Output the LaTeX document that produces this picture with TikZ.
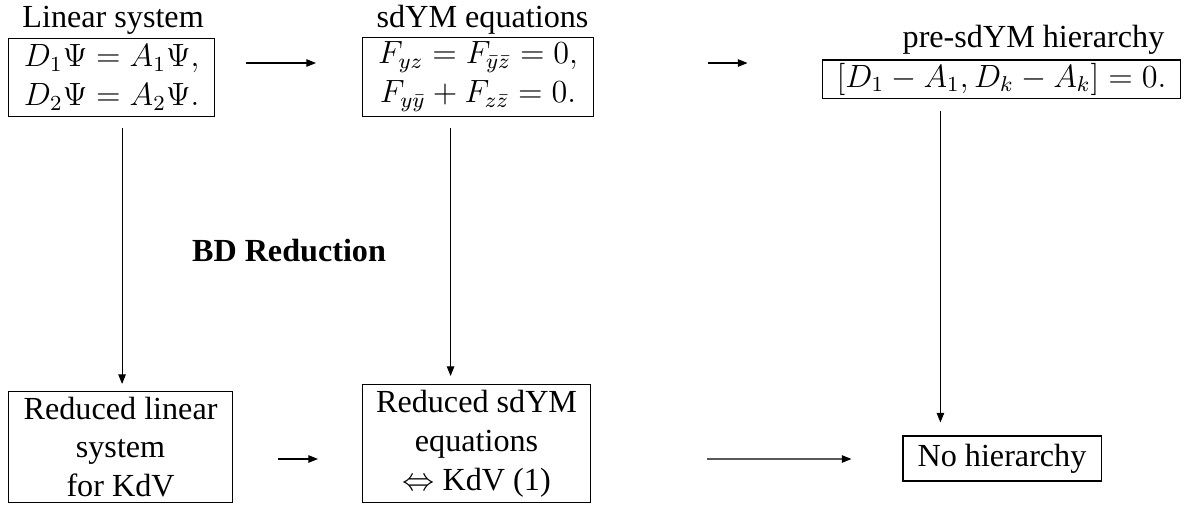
\documentclass[tikz,border=0pt,12pt]{standalone}
\usepackage[no-math]{fontspec}
\setmainfont{Liberation Serif}
\usetikzlibrary{arrows.meta,positioning,calc}

\begin{document}
\begin{tikzpicture}[x=0.3731pt,y=-0.3731pt,
  box/.style={draw,rectangle,align=center,inner sep=0pt,line width=0.4pt},
  title/.style={inner sep=0pt,anchor=base},
  arrow/.style={-{Triangle[length=3.6pt,width=2.8pt]},line width=0.4pt},
]
  \useasboundingbox (0,0) rectangle (1188,505);

  % top row
  \node[box,anchor=south west,minimum width=76.9pt,minimum height=29.1pt] (lin) at (8,117)
    {$D_1\Psi = A_1\Psi,$\\ $D_2\Psi = A_2\Psi.$};
  \node[box,anchor=south west,minimum width=86.2pt,minimum height=29.5pt] (sdym) at (362,117)
    {$F_{yz} = F_{\bar y\bar z} = 0,$\\ $F_{y\bar y} + F_{z\bar z} = 0.$};
  \node[box,minimum width=133.9pt,minimum height=14.2pt] (hier) at (1001.5,79)
    {$[D_1 - A_1, D_k - A_k] = 0.$};

  \node[title] (lintitle) at ($(lin.north)+(1.5,-10)$) {Linear system};
  \node[title] (sdymtitle) at ($(sdym.north)+(4.5,-9)$) {sdYM equations};
  \node[title] (hiertitle) at ($(hier.north)+(32,-12)$) {pre-sdYM hierarchy};

  % bottom row
  \node[box,anchor=south west,minimum width=83.6pt,minimum height=41.4pt] (redlin) at (8,503)
    {Reduced linear\\system\\for KdV};
  \node[box,anchor=south west,minimum width=85.1pt,minimum height=44pt] (redsdym) at (362,503)
    {Reduced sdYM\\equations\\$\Leftrightarrow$ KdV (1)};
  \node[box,minimum width=73.9pt,minimum height=16.8pt] (nohier) at (1002,458.5)
    {No hierarchy};

  \node[font=\bfseries] (bd) at (289,251) {BD Reduction};

  % horizontal arrows
  \draw[arrow] ($(lin.south east)+(31,-54)$) -- ($(sdym.south west)+(-46,-54)$);
  \draw[arrow] ($(sdym.south east)+(114,-54)$) -- ($(hier.west)+(-74,-16)$);
  \draw[arrow] ($(redlin.south east)+(45,-44)$) -- ($(redsdym.south west)+(-44,-44)$);
  \draw[arrow] ($(redsdym.south east)+(116,-44)$) -- ($(nohier.west)+(-51,0.5)$);

  % vertical arrows
  \draw[arrow] ($(redlin.north |- lin.south)+(1.5,11)$) -- ($(redlin.north)+(1.5,-7)$);
  \draw[arrow] ($(redsdym.north |- sdym.south)+(-26,11)$) -- ($(redsdym.north)+(-26,-8)$);
  \draw[arrow] ($(nohier.north west |- hier.south)+(38,12)$) -- ($(nohier.north west)+(38,-13)$);
\end{tikzpicture}
\end{document}
